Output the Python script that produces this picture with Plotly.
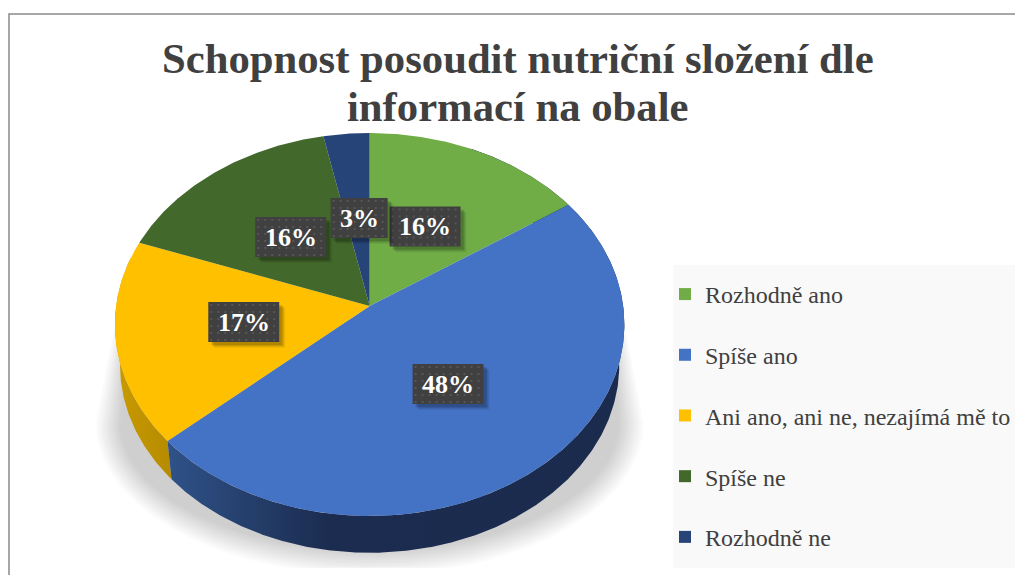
import numpy as np
import plotly.graph_objects as go

title_lines = ["Schopnost posoudit nutriční složení dle", "informací na obale"]
categories = ["Rozhodně ano", "Spíše ano", "Ani ano, ani ne, nezajímá mě to", "Spíše ne", "Rozhodně ne"]
shares = [15.5, 47.9, 17.2, 16.2, 3.2]
colors = ["#70ad47", "#4472c4", "#ffc000", "#43682b", "#264478"]

SERIF = "Liberation Serif"
TEXT = "#404040"

# pie geometry in page pixels
CX, CY = 370, 306
A, B, K = 253.8, 189.7, 0.0966
DEPTH, BOTTOM_SCALE = 41, 0.98


def rim(start, end, scale=1.0, dy=0.0):
    """points on the tilted pie edge, angles in degrees clockwise from the top"""
    t = np.radians(np.linspace(start, end, max(int(abs(end - start)), 2) * 2))
    w = 1 + K * np.cos(t)
    return CX + scale * A * np.sin(t) / w, CY + dy + scale * B * np.cos(t) * -1 / w


def poly(x, y, color, **kw):
    return go.Scatter(x=list(x), y=list(y), mode="lines", fill="toself", fillcolor=color,
                      line=dict(width=0), hoverinfo="skip", showlegend=False, **kw)


def wall(start, end, stops):
    xt, yt = rim(start, end)
    xb, yb = rim(start, end, BOTTOM_SCALE, DEPTH)
    x = np.concatenate([xt, xb[::-1], xt[:1]])
    y = np.concatenate([yt, yb[::-1], yt[:1]])
    tr = go.Scatter(x=x, y=y, mode="lines", fill="toself", line=dict(width=0),
                    hoverinfo="skip", showlegend=False,
                    fillgradient=dict(type="horizontal", colorscale=stops))
    return tr


fig = go.Figure()

# soft shadow under the pie
for i in range(24):
    d = i * 1.1
    t = np.radians(np.linspace(0, 180, 120))
    ax, by = 275 - d, 153 - d
    arc_x = 370 + ax * np.cos(t)
    arc_y = np.minimum(423 + by * np.sin(t), 568)
    x = np.concatenate([[115 + d * 0.5], [95 + d], arc_x[::-1], [645 - d, 625 - d * 0.5]])
    y = np.concatenate([[320], [423], arc_y[::-1], [423, 320]])
    fig.add_trace(poly(x, y, "rgba(0,0,0,0.0098)"))

# slice boundaries from the shares
edges = np.concatenate([[0], np.cumsum(shares)]) * 3.6

# side wall
fig.add_trace(wall(edges[2], 285, [[0, "#c99a00"], [1, "#b58b00"]]))
fig.add_trace(wall(edges[1] - 30, edges[2],
                   [[0, "#2f5288"], [0.35, "#1b2c50"], [1, "#1a2b4e"]]))

# top face
for i, color in enumerate(colors):
    x, y = rim(edges[i], edges[i + 1])
    fig.add_trace(poly(np.concatenate([[CX], x, [CX]]), np.concatenate([[CY], y, [CY]]), color))

# legend panel and frame
fig.add_trace(poly([674, 1016, 1016, 674, 674], [265, 265, 568, 568, 265], "#f9f9f9"))
fig.add_trace(go.Scatter(x=[9, 9, 1016], y=[575, 14, 14], mode="lines", hoverinfo="skip",
                         showlegend=False, line=dict(color="#8a8a8a", width=1.5)))

# data labels
label_centers = [(425.5, 226.5), (448.5, 384), (244, 322), (291, 237), (359.5, 218)]
for share, (lx, ly) in zip(shares, label_centers):
    label = f"{share:.0f}%"
    hw = 28.5 if len(label) == 2 else 35.5
    hh = 20
    for off, alpha in [(6, 0.05), (5, 0.07), (4, 0.09), (3, 0.12)]:
        fig.add_trace(poly([lx - hw + off, lx + hw + off, lx + hw + off, lx - hw + off, lx - hw + off],
                           [ly - hh + off, ly - hh + off, ly + hh + off, ly + hh + off, ly - hh + off],
                           f"rgba(0,0,0,{alpha})"))
    fig.add_trace(poly([lx - hw, lx + hw, lx + hw, lx - hw, lx - hw],
                       [ly - hh, ly - hh, ly + hh, ly + hh, ly - hh], "#404040"))
    gx, gy = np.meshgrid(np.arange(lx - hw + 3, lx + hw - 1, 7), np.arange(ly - hh + 3, ly + hh - 1, 7))
    fig.add_trace(go.Scatter(x=gx.ravel(), y=gy.ravel(), mode="markers", hoverinfo="skip", showlegend=False,
                             marker=dict(size=2, color="#565656", symbol="square")))
    fig.add_annotation(x=lx, y=ly, text=f"<b>{label}</b>", showarrow=False,
                       font=dict(family=SERIF, size=26, color="#ffffff"))

# legend
for name, color in zip(categories, colors):
    fig.add_trace(go.Scatter(x=[None], y=[None], mode="markers", name=name, legendgroup=name,
                             marker=dict(symbol="square", size=12, color=color)))

for line, ty in zip(title_lines, [58, 106]):
    fig.add_annotation(x=518.5, y=ty, text=f"<b>{line}</b>", showarrow=False,
                       font=dict(family=SERIF, size=42.7, color=TEXT))

fig.update_xaxes(visible=False, range=[0, 1016], fixedrange=True)
fig.update_yaxes(visible=False, range=[575, 0], fixedrange=True)
fig.update_layout(
    width=1016, height=575,
    margin=dict(l=0, r=0, t=0, b=0),
    paper_bgcolor="#ffffff", plot_bgcolor="#ffffff",
    legend=dict(x=0.655, y=0.527, xanchor="left", yanchor="top",
                bgcolor="rgba(0,0,0,0)", traceorder="grouped", tracegroupgap=26.5, itemwidth=30,
                entrywidth=296, entrywidthmode="pixels",
                font=dict(family=SERIF, size=24, color=TEXT)),
)

fig.write_html("out.html", config=dict(displayModeBar=False),
               post_script="document.body.style.margin='0';")
